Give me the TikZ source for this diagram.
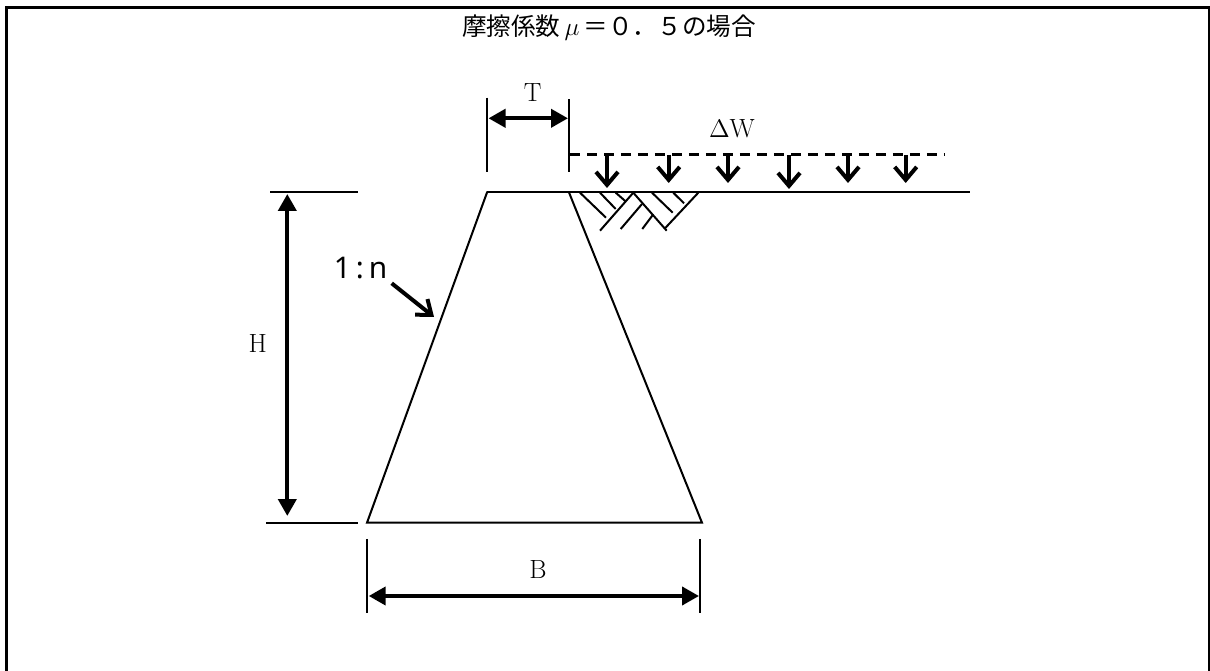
\documentclass[tikz,border=0pt]{standalone}
\usepackage{fontspec}
\usepackage{tikz}
\usetikzlibrary{arrows.meta}
\newfontfamily\cjk{Noto Sans CJK JP}
\newfontfamily\gothic{Noto Sans}
\tikzset{
  thinline/.style={black, line width=0.04cm},
  dimline/.style={black, line width=0.08cm, {Triangle[length=0.34cm,width=0.36cm]}-{Triangle[length=0.34cm,width=0.36cm]}},
  loadline/.style={black, line width=0.08cm, -{Straight Barb[length=0.26cm,width=0.44cm]}},
  dimlabel/.style={inner sep=0pt, font=\fontsize{15}{15}\selectfont}
}
\begin{document}
\begin{tikzpicture}[x=0.02cm,y=0.02cm]
\useasboundingbox (0,0) rectangle (1210,-671);
\draw [black, line width=0.06cm] (6.5,-671) -- (6.5,-7.3) -- (1209,-7.3) -- (1209,-671);
\node [dimlabel] (title) at (609,-28) {\cjk\fontsize{14}{14}\selectfont 摩擦係数$\,\mu\,$＝０．５の場合};
% section
\coordinate (topleft) at (487.3,-191.7);
\coordinate (topright) at (568.7,-191.7);
\coordinate (botleft) at (367,-522.7);
\coordinate (botright) at (702,-522.7);
\coordinate (groundend) at (969.5,-191.7);
\draw [thinline] (topleft) -- (botleft) -- (botright) -- (topright);
\draw [thinline] (topleft) -- (groundend);
% T
\draw [thinline] (487.3,-97.7) -- (487.3,-172);
\draw [thinline] (568.7,-99.3) -- (568.7,-172);
\draw [dimline] (488.5,-118.3) -- (568,-118.3);
\node [dimlabel] (labT) at (532.7,-92.7) {T};
% load
\draw [black, line width=0.06cm, dash pattern=on 0.2cm off 0.14cm] (570,-155) -- (945,-155);
\node [dimlabel] (labW) at (732,-129) {$\Delta$W};
\draw [loadline] (607,-155) -- (607,-188);
\draw [loadline] (668.7,-155) -- (668.7,-183);
\draw [loadline] (728,-155) -- (728,-183);
\draw [loadline] (789,-155) -- (789,-189);
\draw [loadline] (848,-155) -- (848,-183);
\draw [loadline] (905.7,-155) -- (905.7,-183);
% hatching
\draw [thinline] (633.3,-192.7) -- (600,-230.7);
\draw [thinline] (633.3,-192.7) -- (666.7,-230.7);
\draw [thinline] (698.3,-192.7) -- (665,-228.3);
\draw [thinline] (580,-192.7) -- (606,-217.7);
\draw [thinline] (600,-192.7) -- (615.7,-209);
\draw [thinline] (615.7,-192.7) -- (626,-201.7);
\draw [thinline] (652,-192.7) -- (672.7,-212.7);
\draw [thinline] (673.3,-192.7) -- (684,-203.3);
\draw [thinline] (642,-204) -- (620.7,-229);
\draw [thinline] (653.3,-214.3) -- (642.3,-229);
% H
\draw [thinline] (270,-192) -- (358,-192);
\draw [thinline] (266,-522.7) -- (358,-522.7);
\draw [dimline] (287.3,-194) -- (287.3,-516);
\node [dimlabel] (labH) at (257.7,-344) {H};
% slope
\node [inner sep=0pt, font=\gothic\fontsize{17}{17}\selectfont] (slope) at (360.5,-268) {1\,:\,n};
\coordinate (slopetip) at (434,-317);
\draw [black, line width=0.08cm, -{Straight Barb[length=0.26cm,width=0.4cm]}] (391.7,-283.3) -- (slopetip);
% B
\draw [thinline] (367,-539) -- (367,-613.3);
\draw [thinline] (700.3,-539) -- (700.3,-613.3);
\draw [dimline] (368.7,-596) -- (699,-596);
\node [dimlabel] (labB) at (538,-570) {B};
\end{tikzpicture}
\end{document}
